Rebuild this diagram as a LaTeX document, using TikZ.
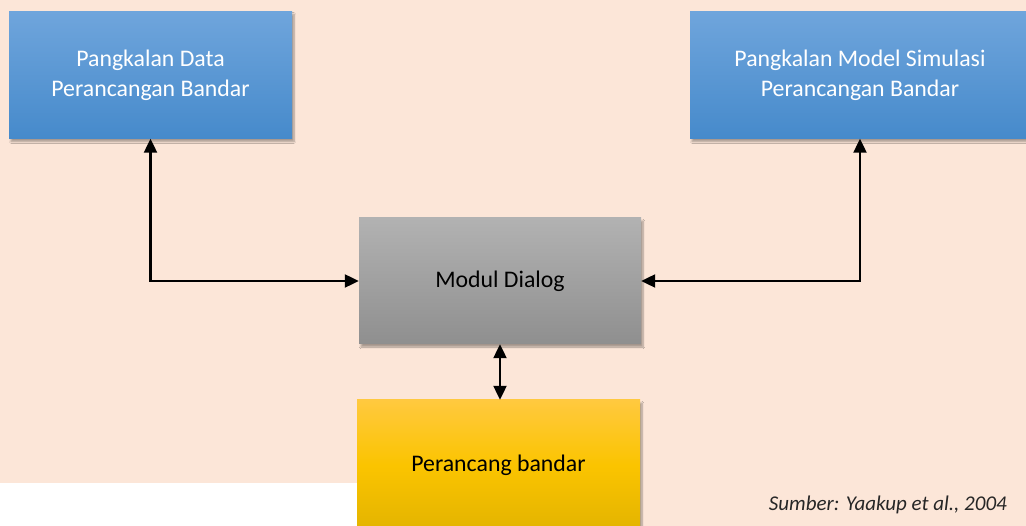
\documentclass[tikz,border=0pt]{standalone}
\usepackage{fontspec}
\setmainfont{Carlito}
\usetikzlibrary{shadows.blur,arrows.meta}
\definecolor{bg}{HTML}{FCE6D8}
\definecolor{blueT}{HTML}{6FA5DC}
\definecolor{blueB}{HTML}{468ACB}
\definecolor{grayT}{HTML}{B2B2B2}
\definecolor{grayB}{HTML}{8F8F8F}
\definecolor{yelT}{HTML}{FFC93F}
\definecolor{yelM}{HTML}{FBC400}
\definecolor{yelB}{HTML}{E3B400}
\tikzset{
  box/.style={rectangle, inner sep=0pt, align=center, shading=axis,
    blur shadow={shadow xshift=2pt, shadow yshift=-3pt, shadow blur steps=6, shadow opacity=35}},
  bluebox/.style={box, top color=blueT, bottom color=blueB, text=white},
  graybox/.style={box, top color=grayT, bottom color=grayB, text=black},
  yelbox/.style={box, top color=yelT, bottom color=yelB, middle color=yelM, text=black},
  arr/.style={line width=2.2pt, {Triangle[length=14pt,width=13pt]}-{Triangle[length=14pt,width=13pt]}},
  lbl/.style={font=\fontsize{23.8}{30}\selectfont}
}
\begin{document}
\begin{tikzpicture}[x=1pt,y=-1pt]
\useasboundingbox (0,0) rectangle (1026,526);
\clip (0,0) rectangle (1026,526);
\fill[bg] (0,0) rectangle (1026,526);
\fill[white] (0,483) rectangle (360,526);
\node[bluebox, minimum width=283pt, minimum height=127pt, lbl] (b1) at (150.5,75) {Pangkalan Data\\Perancangan Bandar};
\node[bluebox, minimum width=340pt, minimum height=127pt, lbl] (b2) at (860,75) {Pangkalan Model Simulasi\\Perancangan Bandar};
\node[graybox, minimum width=282pt, minimum height=126pt, lbl] (md) at (500,281) {Modul Dialog};
\node[yelbox, minimum width=283pt, minimum height=130pt, lbl] (pb) at (498.5,465) {Perancang bandar};
\node[anchor=south east, font=\fontsize{21}{25}\selectfont\itshape, text=black!85, inner sep=0pt] (src) at (1007,514) {Sumber: Yaakup et al., 2004};
\draw[arr] (b1.south) |- (md.west);
\draw[arr] (b2.south) |- (md.east);
\draw[arr] (md.south) -- (md.south |- pb.north);
\end{tikzpicture}
\end{document}
